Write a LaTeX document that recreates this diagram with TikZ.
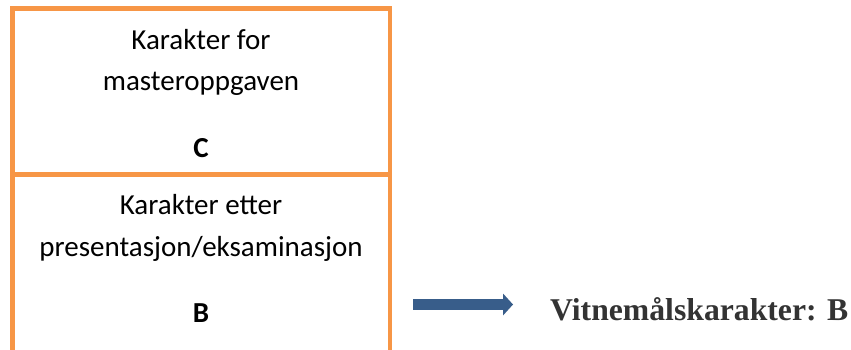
\documentclass[tikz,border=0pt]{standalone}
\usepackage{fontspec}
\setmainfont{Carlito}
\newfontfamily\timesfont{Liberation Serif}
\usepackage{tikz}
\usetikzlibrary{arrows.meta}
\definecolor{boxorange}{HTML}{F79646}
\definecolor{arrowblue}{HTML}{385D8A}
\tikzstyle{gradebox}=[rectangle, draw=boxorange, line width=4.5pt, minimum width=377.5pt, inner sep=0pt]
\tikzstyle{gradetext}=[anchor=base, inner sep=0pt, font=\fontsize{29}{35}\selectfont]
\tikzstyle{gradearrow}=[draw=arrowblue, line width=11pt, -{Triangle[length=10pt, width=22pt, line width=0pt]}, shorten >=37pt]
\providecommand{\gradetext}{\node[gradetext]}

\begin{document}
\begin{tikzpicture}[x=1pt, y=1pt]
\useasboundingbox (0,0) rectangle (851,349);
\clip (0,0) rectangle (851,349);
\node[gradebox, minimum height=166pt] (upper) at (201.25,257.5) {};
\node[gradebox, minimum height=184.5pt] (lower) at (201.25,82.25) {};
\gradetext (upper1) at (201,300) {Karakter for};
\gradetext (upper2) at (201,259) {masteroppgaven};
\gradetext (uppergrade) at (201,192) {\bfseries C};
\gradetext (lower1) at (201,134.5) {Karakter etter};
\gradetext (lower2) at (201,93) {presentasjon/eksaminasjon};
\gradetext (lowergrade) at (201,26.3) {\bfseries B};
\node (final) at (550,29) [anchor=base west, inner sep=0pt, text=black!80, font=\timesfont\bfseries\fontsize{31.7}{38}\selectfont] {Vitnemålskarakter: B};
\coordinate (arrowstart) at (413,44.5);
\path
(arrowstart) edge[gradearrow] (final.west |- arrowstart)
;
\end{tikzpicture}
\end{document}
